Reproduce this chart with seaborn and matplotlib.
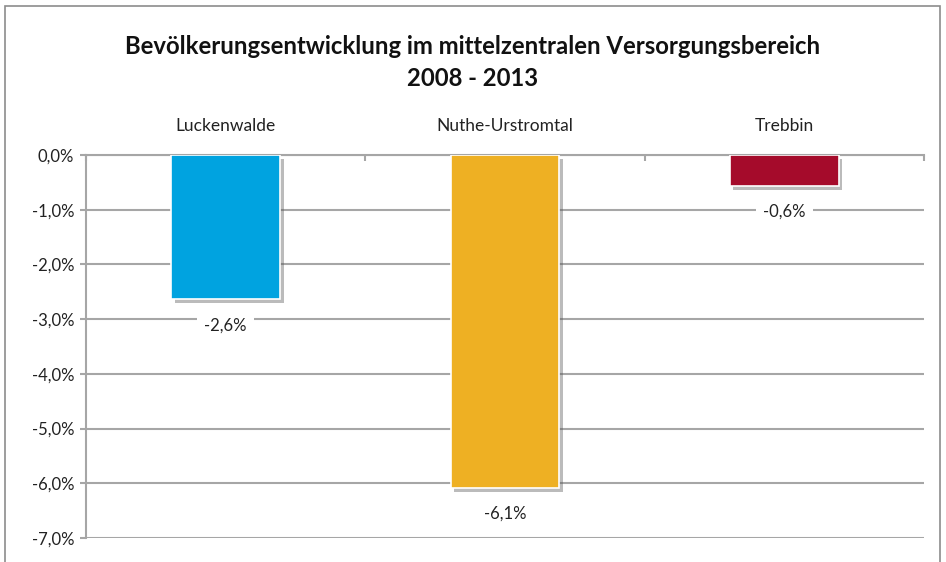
import matplotlib.pyplot as plt
import matplotlib.patheffects as pe
from matplotlib.patches import Rectangle
from matplotlib.ticker import FuncFormatter, FixedLocator
import seaborn as sns
import pandas as pd

# Daten: Bevölkerungsentwicklung 2008 - 2013 (in %)
orte = ["Luckenwalde", "Nuthe-Urstromtal", "Trebbin"]
veraenderung = [-2.63, -6.08, -0.56]
farben = ["#00A3E0", "#EEB023", "#A50B2B"]
y_ticks = [0, -1, -2, -3, -4, -5, -6, -7]

GRID_GRAY = "#A6A6A6"

sns.set_theme(style="white")
plt.rcParams["font.family"] = ["Lato", "DejaVu Sans"]

df = pd.DataFrame({"ort": orte, "wert": veraenderung})

fig = plt.figure(figsize=(9.46, 5.62), dpi=100)
ax = fig.add_axes([86 / 946, 1 - 538 / 562, (924 - 86) / 946, (538 - 155) / 562])

sns.barplot(data=df, x="ort", y="wert", hue="ort", palette=farben, saturation=1,
            legend=False, width=0.39, ax=ax, zorder=3,
            edgecolor="white", linewidth=1.2)

# weicher Schatten unter den Balken
for p in ax.patches:
    p.set_path_effects([pe.SimplePatchShadow(offset=(2.5, -3), shadow_rgbFace="#555555", alpha=0.4),
                        pe.Normal()])

# Wertebeschriftung unter den Balken
for i, v in enumerate(veraenderung):
    txt = f"{v:.1f}%".replace(".", ",")
    ax.annotate(txt, (i, v), xytext=(0, -19), textcoords="offset points",
                ha="center", va="center", fontsize=12, color="#222222", zorder=4,
                bbox=dict(boxstyle="square,pad=0.45", fc="white", ec="none"))

ax.set_ylim(-7, 0)
ax.set_xlim(-0.5, 2.5)
ax.set_yticks(y_ticks)
ax.yaxis.set_major_formatter(FuncFormatter(lambda v, _: f"{v:.1f}%".replace(".", ",")))
ax.yaxis.grid(True, color=GRID_GRAY, linewidth=1.5, zorder=0)
ax.set_axisbelow(True)

# Kategorien oben, Trennstriche zwischen den Kategorien
ax.xaxis.tick_top()
ax.xaxis.set_minor_locator(FixedLocator([-0.5, 0.5, 1.5, 2.5]))
ax.tick_params(axis="x", which="major", length=0, pad=15, labelsize=12.5, labelcolor="#222222")
ax.tick_params(axis="x", which="minor", direction="in", length=4.5, width=1.5, color=GRID_GRAY, top=True)
ax.tick_params(axis="y", length=4.5, width=1.5, color=GRID_GRAY, left=True, labelsize=12,
               labelcolor="#222222", pad=4)
ax.set_xlabel("")
ax.set_ylabel("")

for s in ["right", "bottom"]:
    ax.spines[s].set_visible(False)
for s in ["top", "left"]:
    ax.spines[s].set_color(GRID_GRAY)
    ax.spines[s].set_linewidth(1.5)

fig.text(0.5, 1 - 47 / 562, "Bevölkerungsentwicklung im mittelzentralen Versorgungsbereich",
         ha="center", va="center", fontsize=17.2, weight="bold", color="#111111")
fig.text(0.5, 1 - 79 / 562, "2008 - 2013",
         ha="center", va="center", fontsize=17.2, weight="bold", color="#111111")

# Rahmen um das Diagramm
fig.patches.append(Rectangle((5 / 946, -0.2), 935 / 946, 1.2 - 6 / 562,
                             transform=fig.transFigure, fill=False,
                             edgecolor="#8C8C8C", linewidth=1.2))

fig.savefig("out.png", dpi=100)
